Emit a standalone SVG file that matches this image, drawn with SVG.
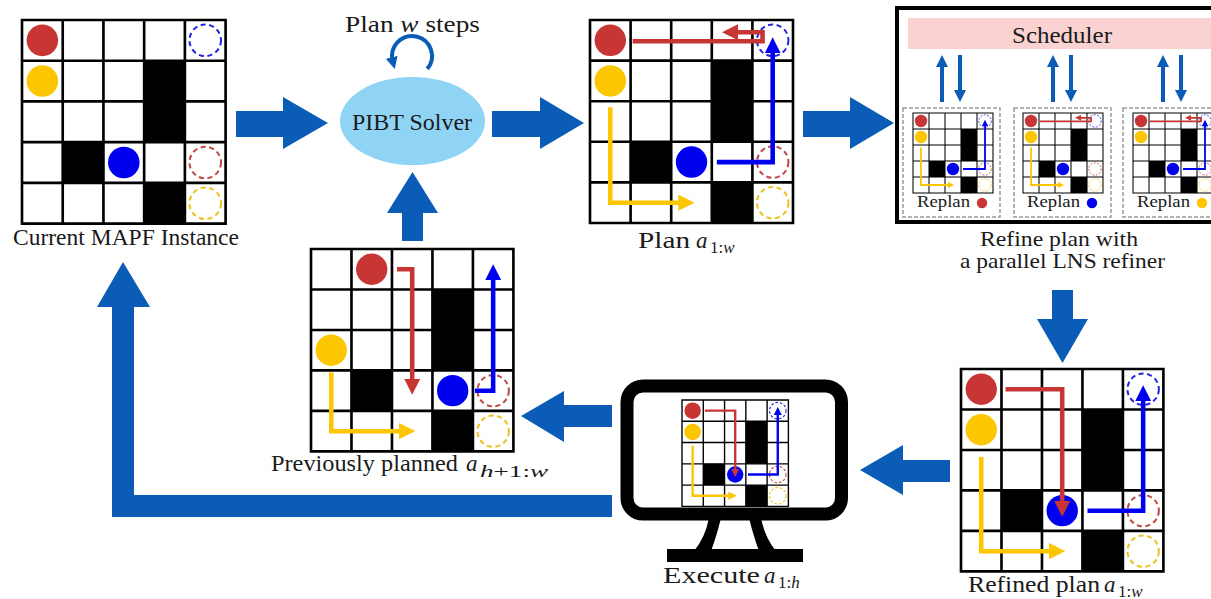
<svg xmlns="http://www.w3.org/2000/svg" width="1211" height="599" viewBox="0 0 1211 599">
<style>
text{font-family:"Liberation Serif","DejaVu Serif",serif;fill:#1a1a1a}
.lbl{font-size:23px}
.lbl2{font-size:21px}
.it{font-style:italic}
.sub{font-size:17px}
.big{fill:#0a5cb6}
.ag-r{fill:#c83535}.ag-y{fill:#fcc600}.ag-b{fill:#0000f0}
.gl{fill:none;stroke-width:2;stroke-dasharray:5 3.5}
.gr{stroke:#c04848}.gy{stroke:#f0c020}.gb{stroke:#2525e0}
.p{fill:none;stroke-width:4.5}
.pr{stroke:#c83535;marker-end:url(#mr)}
.pb{stroke:#0000f0;marker-end:url(#mb)}
.py{stroke:#fcc600;marker-end:url(#my)}
.sa{fill:none;stroke:#0a5cb6;stroke-width:4;marker-end:url(#ms)}
.panel{fill:#fff;stroke:#9a9a9a;stroke-width:1.5;stroke-dasharray:4 2}
</style>
<defs>
<marker id="mr" viewBox="0 0 16 16" markerWidth="16" markerHeight="16" refX="6" refY="8" orient="auto" markerUnits="userSpaceOnUse"><path d="M0,0L16,8L0,16z" fill="#c83535"/></marker>
<marker id="mb" viewBox="0 0 16 16" markerWidth="16" markerHeight="16" refX="6" refY="8" orient="auto" markerUnits="userSpaceOnUse"><path d="M0,0L16,8L0,16z" fill="#0000f0"/></marker>
<marker id="my" viewBox="0 0 16 16" markerWidth="16" markerHeight="16" refX="6" refY="8" orient="auto" markerUnits="userSpaceOnUse"><path d="M0,0L16,8L0,16z" fill="#fcc600"/></marker>
<marker id="ms" viewBox="0 0 12 12" markerWidth="12" markerHeight="12" refX="4" refY="6" orient="auto" markerUnits="userSpaceOnUse"><path d="M0,0L12,6L0,12z" fill="#0a5cb6"/></marker>
<g id="board">
<rect width="200" height="200" fill="#fff"/>
<rect x="120" y="40" width="40" height="80" fill="#000"/>
<rect x="40" y="120" width="40" height="40" fill="#000"/>
<rect x="120" y="160" width="40" height="40" fill="#000"/>
<path d="M0,0H200V200H0Z M40,0V200 M80,0V200 M120,0V200 M160,0V200 M0,40H200 M0,80H200 M0,120H200 M0,160H200" stroke="#000" stroke-width="2.6" fill="none"/>
</g>
<g id="goals3"><circle class="gl gb" cx="180" cy="20" r="15.5"/><circle class="gl gr" cx="180" cy="140" r="15.5"/><circle class="gl gy" cx="180" cy="180" r="15.5"/></g>
<g id="agents3"><circle class="ag-r" cx="20" cy="20" r="15.5"/><circle class="ag-y" cx="20" cy="60" r="15.5"/><circle class="ag-b" cx="100" cy="140" r="15.5"/></g>
<path id="pp-r" class="p pr" d="M42,21H170V12H140"/>
<path id="pp-b" class="p pb" d="M125,140H180V27"/>
<path id="pp-y" class="p py" d="M20,86V180H93"/>
</defs>

<g id="current-instance">
<g transform="translate(22,20) scale(1.018)">
<use href="#board"/><use href="#goals3"/><use href="#agents3"/>
</g>
<text class="lbl" x="13" y="245" textLength="226" lengthAdjust="spacingAndGlyphs">Current MAPF Instance</text>
</g>

<g id="pibt-solver">
<ellipse cx="412.5" cy="121" rx="72.5" ry="44" fill="#8fd4f5"/>
<text class="lbl" x="352" y="130" textLength="120" lengthAdjust="spacingAndGlyphs">PIBT Solver</text>
<text class="lbl" x="345" y="32" textLength="135" lengthAdjust="spacingAndGlyphs">Plan <tspan class="it">w</tspan> steps</text>
</g>

<g id="plan">
<g transform="translate(590,20) scale(1.015)">
<use href="#board"/><use href="#goals3"/><use href="#agents3"/>
<use href="#pp-r"/><use href="#pp-b"/><use href="#pp-y"/>
</g>
<text class="lbl" x="638" y="248" textLength="52" lengthAdjust="spacingAndGlyphs">Plan</text>
<text class="lbl it" x="696" y="248">a</text>
<text class="sub" x="710" y="253">1:<tspan class="it">w</tspan></text>
</g>

<g id="lns-refiner">
<rect x="897" y="8" width="340" height="214" fill="#fff" stroke="#000" stroke-width="4"/>
<rect x="908" y="18" width="330" height="31" fill="#fbd2d2"/>
<text class="lbl" x="1012" y="43" textLength="100" lengthAdjust="spacingAndGlyphs">Scheduler</text>
<rect class="panel" x="903" y="108" width="97" height="109"/>
<rect class="panel" x="1014" y="108" width="97" height="109"/>
<rect class="panel" x="1123" y="108" width="97" height="109"/>
<g transform="translate(913,113) scale(0.4)">
<use href="#board"/><use href="#goals3"/><use href="#agents3"/>
<use href="#pp-b"/><use href="#pp-y"/>
</g>
<g transform="translate(1023,113) scale(0.4)">
<use href="#board"/><use href="#goals3"/><use href="#agents3"/>
<use href="#pp-r"/><use href="#pp-y"/>
</g>
<g transform="translate(1133,113) scale(0.4)">
<use href="#board"/><use href="#goals3"/><use href="#agents3"/>
<use href="#pp-r"/><use href="#pp-b"/>
</g>
<text x="917" y="207" font-size="17" textLength="53" lengthAdjust="spacingAndGlyphs">Replan</text>
<circle class="ag-r" cx="982" cy="203" r="5.2"/>
<text x="1027" y="207" font-size="17" textLength="53" lengthAdjust="spacingAndGlyphs">Replan</text>
<circle class="ag-b" cx="1092" cy="203" r="5.2"/>
<text x="1137" y="207" font-size="17" textLength="53" lengthAdjust="spacingAndGlyphs">Replan</text>
<circle class="ag-y" cx="1202" cy="203" r="5.2"/>
<text class="lbl2" x="980" y="246" textLength="158" lengthAdjust="spacingAndGlyphs">Refine plan with</text>
<text class="lbl2" x="960" y="268" textLength="205" lengthAdjust="spacingAndGlyphs">a parallel LNS refiner</text>
</g>

<g id="refined-plan">
<g transform="translate(961,369) scale(1.012)">
<use href="#board"/><use href="#goals3"/><use href="#agents3"/>
<path class="p pr" d="M44,20H100V136"/>
<path class="p pb" d="M125,140H180V26"/>
<path class="p py" d="M20,87V180H93"/>
</g>
<text class="lbl" x="968" y="592" textLength="132" lengthAdjust="spacingAndGlyphs">Refined plan</text>
<text class="lbl it" x="1104" y="592">a</text>
<text class="sub" x="1118" y="597">1:<tspan class="it">w</tspan></text>
</g>

<g id="execute">
<rect x="627" y="386" width="214.5" height="128" rx="16" fill="#fff" stroke="#000" stroke-width="13"/>
<path d="M709,518L721,518Q716,538 711,551L694,551Q705,538 709,518Z" fill="#000"/>
<path d="M761,518L749,518Q754,538 759,551L776,551Q765,538 761,518Z" fill="#000"/>
<rect x="667" y="549" width="136" height="13" fill="#000"/>
<g transform="translate(682,400) scale(0.532)">
<use href="#board"/><use href="#goals3"/><use href="#agents3"/>
<path class="p pr" d="M43,20H100V135"/>
<path class="p pb" d="M124,140H180V23"/>
<path class="p py" d="M20,86V180H93"/>
</g>
<text class="lbl" x="663" y="583" textLength="97" lengthAdjust="spacingAndGlyphs">Execute</text>
<text class="lbl it" x="764" y="583">a</text>
<text class="sub" x="778" y="588">1:<tspan class="it">h</tspan></text>
</g>

<g id="previous-plan">
<g transform="translate(311,249) scale(1.012)">
<use href="#board"/>
<circle class="gl gr" cx="180" cy="140" r="15.5"/><circle class="gl gy" cx="180" cy="180" r="15.5"/>
<circle class="ag-r" cx="60" cy="20" r="15.5"/><circle class="ag-y" cx="20" cy="100" r="15.5"/><circle class="ag-b" cx="140" cy="140" r="15.5"/>
<path class="p pr" d="M85,20H100V134"/>
<path class="p pb" d="M162,140H180V25"/>
<path class="p py" d="M20,122V180H93"/>
</g>
<text class="lbl" x="271" y="471" textLength="187" lengthAdjust="spacingAndGlyphs">Previously planned</text>
<text class="lbl it" x="466" y="471">a</text>
<text class="sub" x="480" y="477" textLength="68" lengthAdjust="spacingAndGlyphs"><tspan class="it">h</tspan>+1:<tspan class="it">w</tspan></text>
</g>

<g id="connectors">
<polygon class="big" points="236,111 283,111 283,97 328,123 283,149 283,137 236,137"/>
<polygon class="big" points="492,111 540,111 540,97 584,123 540,149 540,137 492,137"/>
<polygon class="big" points="803,111 850,111 850,97 894,123 850,149 850,137 803,137"/>
<polygon class="big" points="402,241 402,213 387,213 412.5,172 438,213 423,213 423,241"/>
<polygon class="big" points="1052,290 1073,290 1073,319 1088,319 1062.5,363 1037,319 1052,319"/>
<polygon class="big" points="950,460 903,460 903,445 860,470 903,495 903,482 950,482"/>
<polygon class="big" points="612,405 564,405 564,391 521,416 564,442 564,427 612,427"/>
<polygon class="big" points="612,495 134,495 134,307 150,307 123,262 97,307 112,307 112,517 612,517"/>
<path class="sa" d="M427.3,68.9A20,20 0 1 0 392.7,61.2"/>
<path class="sa" d="M942,102V63"/><path class="sa" d="M960,55V94"/>
<path class="sa" d="M1053,102V63"/><path class="sa" d="M1071,55V94"/>
<path class="sa" d="M1163,102V63"/><path class="sa" d="M1181,55V94"/>
</g>
</svg>
